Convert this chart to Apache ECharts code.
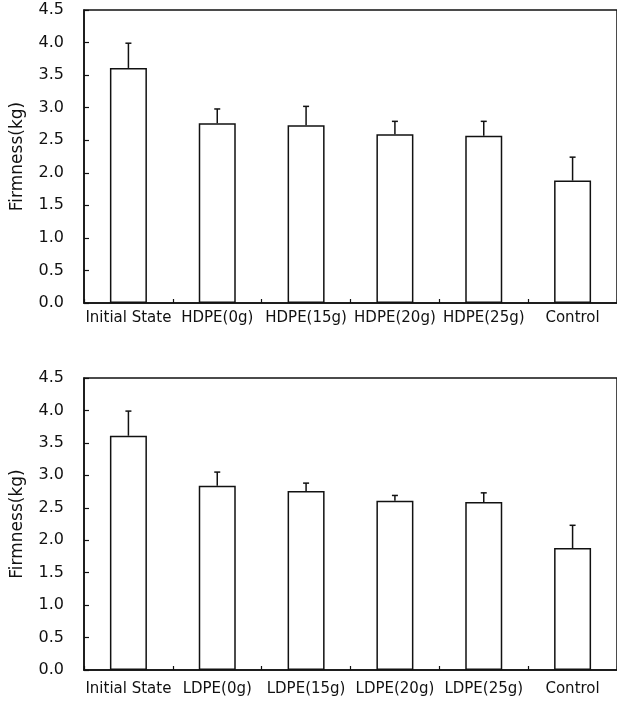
<!DOCTYPE html>
<html>
<head>
<meta charset="utf-8">
<script src="https://cdn.jsdelivr.net/npm/echarts@6/dist/echarts.min.js"></script>
<style>
html,body{margin:0;padding:0;background:#fff;}
#c{width:617px;height:708px;}
</style>
</head>
<body>
<div id="c"></div>
<script>
// Data
var hdpeCategories = ['Initial State', 'HDPE(0g)', 'HDPE(15g)', 'HDPE(20g)', 'HDPE(25g)', 'Control'];
var hdpeMeans = [3.61, 2.76, 2.73, 2.59, 2.57, 1.88];
var hdpeErrors = [0.38, 0.22, 0.29, 0.20, 0.22, 0.36];

var ldpeCategories = ['Initial State', 'LDPE(0g)', 'LDPE(15g)', 'LDPE(20g)', 'LDPE(25g)', 'Control'];
var ldpeMeans = [3.61, 2.84, 2.76, 2.61, 2.59, 1.88];
var ldpeErrors = [0.38, 0.21, 0.12, 0.08, 0.14, 0.35];

var yTicks = [0, 0.5, 1.0, 1.5, 2.0, 2.5, 3.0, 3.5, 4.0, 4.5];
var yAxisTitle = 'Firmness(kg)';

var INK = '#111';
var FONT = 'DejaVu Sans';

function errorData(means, errs) {
  return means.map(function (m, i) { return [i, m, m + errs[i]]; });
}

function errorRender(params, api) {
  var base = api.coord([api.value(0), api.value(1)]);
  var top = api.coord([api.value(0), api.value(2)]);
  var hw = 3;
  var st = { stroke: INK, lineWidth: 1.5 };
  return {
    type: 'group',
    children: [
      { type: 'line', shape: { x1: base[0], y1: base[1], x2: top[0], y2: top[1] }, style: st },
      { type: 'line', shape: { x1: top[0] - hw, y1: top[1], x2: top[0] + hw, y2: top[1] }, style: st }
    ]
  };
}

function makeX(cats, gi, margin) {
  return {
    type: 'category', gridIndex: gi, data: cats, boundaryGap: true,
    axisLine: { lineStyle: { color: INK, width: 1.5 } },
    axisTick: { show: true, inside: true, length: 4, lineStyle: { color: INK, width: 1.2 } },
    axisLabel: { interval: 0, color: INK, fontFamily: FONT, fontSize: 15, margin: margin },
    splitLine: { show: false }
  };
}

function makeY(gi) {
  return {
    type: 'value', gridIndex: gi, min: yTicks[0], max: yTicks[yTicks.length - 1],
    interval: yTicks[1] - yTicks[0],
    name: yAxisTitle, nameLocation: 'middle', nameGap: 58,
    nameTextStyle: { color: INK, fontFamily: FONT, fontSize: 17 },
    axisLine: { show: true, lineStyle: { color: INK, width: 1.5 } },
    axisTick: { show: true, inside: true, length: 5, lineStyle: { color: INK, width: 1.2 } },
    axisLabel: { color: INK, fontFamily: FONT, fontSize: 16, margin: 20,
      formatter: function (v) { return v.toFixed(1); } },
    splitLine: { show: false }
  };
}

var barStyle = { color: '#fff', borderColor: INK, borderWidth: 1.5 };

var chart = echarts.init(document.getElementById('c'), null, { renderer: 'canvas' });
chart.setOption({
  backgroundColor: '#fff',
  animation: false,
  grid: [
    { left: 84, right: -1, top: 10, height: 293, show: true, borderColor: INK, borderWidth: 1.5, backgroundColor: 'transparent' },
    { left: 84, right: -1, top: 378, height: 292, show: true, borderColor: INK, borderWidth: 1.5, backgroundColor: 'transparent' }
  ],
  xAxis: [makeX(hdpeCategories, 0, 8), makeX(ldpeCategories, 1, 12)],
  yAxis: [makeY(0), makeY(1)],
  series: [
    { type: 'bar', xAxisIndex: 0, yAxisIndex: 0, data: hdpeMeans, barWidth: 37, itemStyle: barStyle },
    { type: 'custom', xAxisIndex: 0, yAxisIndex: 0, data: errorData(hdpeMeans, hdpeErrors), renderItem: errorRender, z: 5 },
    { type: 'bar', xAxisIndex: 1, yAxisIndex: 1, data: ldpeMeans, barWidth: 37, itemStyle: barStyle },
    { type: 'custom', xAxisIndex: 1, yAxisIndex: 1, data: errorData(ldpeMeans, ldpeErrors), renderItem: errorRender, z: 5 }
  ]
});
</script>
</body>
</html>
